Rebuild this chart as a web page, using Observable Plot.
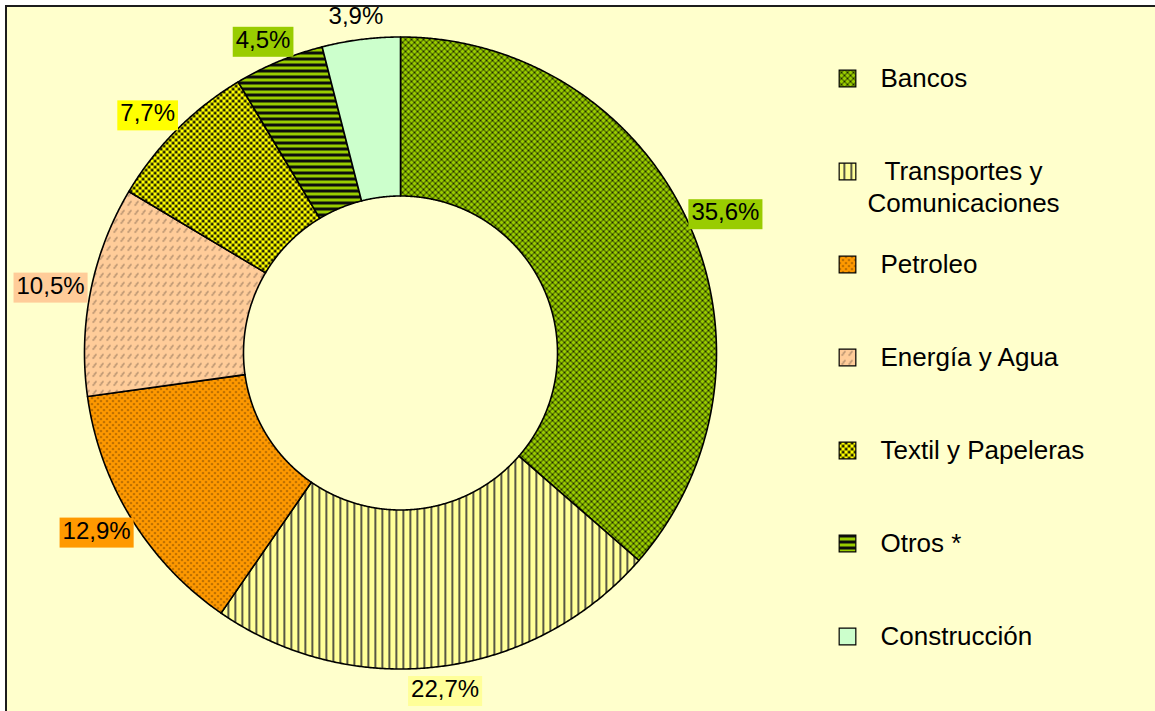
<!DOCTYPE html>
<html>
<head>
<meta charset="utf-8">
<script src="https://cdn.jsdelivr.net/npm/d3@7"></script>
<script src="https://cdn.jsdelivr.net/npm/@observablehq/plot@0.6"></script>
<style>
  html, body { margin: 0; padding: 0; background: #ffffff; }
  #bg { position: absolute; left: 5px; top: 5px; width: 1150px; height: 706px; background: #FFFFCC;
        border-left: 2px solid #1c1c1c; border-top: 2px solid #1c1c1c; box-sizing: border-box; }
  #chart { position: absolute; left: 0; top: 0; }
</style>
</head>
<body>
<svg width="0" height="0" style="position:absolute">
  <defs>
    <pattern id="pBancos" width="6" height="6" patternUnits="userSpaceOnUse">
      <rect width="6" height="6" fill="#99CC00"/>
      <path d="M0,0L6,6M6,0L0,6M-1,5L1,7M5,-1L7,1M-1,1L1,-1M5,7L7,5" stroke="#1a2600" stroke-width="0.95"/>
    </pattern>
    <pattern id="pTrans" width="7" height="7" patternUnits="userSpaceOnUse">
      <rect width="7" height="7" fill="#FFFF99"/>
      <rect x="3" y="0" width="1.6" height="7" fill="#2e2e2e"/>
    </pattern>
    <pattern id="pPetro" width="6" height="6" patternUnits="userSpaceOnUse">
      <rect width="6" height="6" fill="#FF9900"/>
      <circle cx="1.5" cy="1.5" r="0.85" fill="#5a3000"/>
      <circle cx="4.5" cy="4.5" r="0.85" fill="#5a3000"/>
    </pattern>
    <pattern id="pEnergia" width="7" height="9" patternUnits="userSpaceOnUse">
      <rect width="7" height="9" fill="#FFCC99"/>
      <path d="M1.5,7L4.8,2.5" stroke="#5e4a3c" stroke-width="1.1" stroke-dasharray="1.3,0.7"/>
    </pattern>
    <pattern id="pTextil" width="6" height="6" patternUnits="userSpaceOnUse">
      <rect width="6" height="6" fill="#FFFF00"/>
      <rect x="0.3" y="0.3" width="2.6" height="2.6" fill="#000"/>
      <rect x="3.3" y="3.3" width="2.6" height="2.6" fill="#000"/>
    </pattern>
    <pattern id="pOtros" width="6" height="6" patternUnits="userSpaceOnUse">
      <rect width="6" height="6" fill="#99CC00"/>
      <rect x="0" y="3" width="6" height="3" fill="#0d0d0d"/>
    </pattern>
    <pattern id="pConst" width="6" height="6" patternUnits="userSpaceOnUse">
      <rect width="6" height="6" fill="#CCFFCC"/>
    </pattern>
  </defs>
</svg>
<div id="bg"></div>
<div id="chart"></div>
<script>
// ---- data ----
const categories = ["Bancos", "Transportes y Comunicaciones", "Petroleo", "Energía y Agua", "Textil y Papeleras", "Otros *", "Construcción"];
const legendLines = [["Bancos"], ["Transportes y", "Comunicaciones"], ["Petroleo"], ["Energía y Agua"], ["Textil y Papeleras"], ["Otros *"], ["Construcción"]];
const shares = [35.6, 22.7, 12.9, 10.5, 7.7, 4.5, 3.9];
const shareLabels = ["35,6%", "22,7%", "12,9%", "10,5%", "7,7%", "4,5%", "3,9%"];

// ---- styles ----
const patternUrls = ["url(#pBancos)", "url(#pTrans)", "url(#pPetro)", "url(#pEnergia)", "url(#pTextil)", "url(#pOtros)", "url(#pConst)"];
const labelBgs = ["#99CC00", "#FFFF99", "#FF9900", "#FFCC99", "#FFFF00", "#99CC00", null];

// ---- layout ----
const W = 1155, H = 711;
const cx = 400, cy = 352.5, R = 316, r0 = 157;
const labelGap = 8, halfW = 33, halfH = 15;
const legendX = 847, legendTextX = 880, legendY0 = 78, legendStep = 93, legendFont = 26, lineGap = 32;

const rows = categories.map((c, i) => ({cat: c, share: shares[i], label: shareLabels[i], i}));
const arcs = d3.pie().sort(null).value(d => d.share).startAngle(0).endAngle(2 * Math.PI)(rows);

const pol = (rr, t) => [cx + rr * Math.sin(t), cy - rr * Math.cos(t)];

const ringPts = [];
arcs.forEach(a => {
  const n = Math.max(4, Math.ceil((a.endAngle - a.startAngle) / 0.005));
  const ring = [];
  for (let k = 0; k <= n; k++) ring.push(pol(R, a.startAngle + (a.endAngle - a.startAngle) * k / n));
  for (let k = n; k >= 0; k--) ring.push(pol(r0, a.startAngle + (a.endAngle - a.startAngle) * k / n));
  ring.push(ring[0]);
  ring.forEach(([x, y]) => ringPts.push({cat: a.data.cat, x, y}));
});

const labelPos = arcs.map(a => {
  const t = (a.startAngle + a.endAngle) / 2;
  const [x, y] = pol(R + labelGap, t);
  return {label: a.data.label, i: a.data.i, x: x + halfW * Math.sin(t), y: y - halfH * Math.cos(t)};
});

const legendItems = [];
legendLines.forEach((lines, i) => {
  if (lines.length === 1) legendItems.push({text: lines[0], x: legendTextX, y: legendY0 + legendStep * i, anchor: "start"});
  else lines.forEach((l, j) => legendItems.push({text: l, x: 963, y: legendY0 + legendStep * i + lineGap * j, anchor: "middle"}));
});
const legendMarkers = categories.map((c, i) => ({cat: c, x: legendX, y: legendY0 + legendStep * i}));

const tag = cls => (index, scales, values, dims, ctx, next) => {
  const g = next(index, scales, values, dims, ctx);
  g.setAttribute("class", cls);
  return g;
};

const plot = Plot.plot({
  width: W, height: H,
  marginTop: 0, marginRight: 0, marginBottom: 0, marginLeft: 0,
  x: {domain: [0, W], range: [0, W], axis: null},
  y: {domain: [0, H], range: [0, H], axis: null},
  color: {type: "ordinal", domain: categories, range: patternUrls},
  style: {background: "transparent", fontFamily: "'Liberation Sans', Arial, sans-serif", overflow: "visible"},
  marks: [
    Plot.line(ringPts, {x: "x", y: "y", z: "cat", fill: "cat", stroke: "#000", strokeWidth: 1.6, strokeLinejoin: "round", curve: "linear"}),
    Plot.text(labelPos, {x: "x", y: "y", text: "label", fontSize: 24, fill: "#000", render: tag("slice-labels")}),
    Plot.dot(legendMarkers, {x: "x", y: "y", symbol: "square", r: 9.4, fill: "cat", stroke: "#000", strokeWidth: 1.2}),
    Plot.text(legendItems.filter(d => d.anchor === "start"), {x: "x", y: "y", text: "text", textAnchor: "start", fontSize: legendFont, fill: "#000"}),
    Plot.text(legendItems.filter(d => d.anchor === "middle"), {x: "x", y: "y", text: "text", textAnchor: "middle", fontSize: legendFont, fill: "#000"})
  ]
});
document.getElementById("chart").append(plot);

// label background boxes
document.querySelectorAll(".slice-labels text").forEach((t, k) => {
  const bg = labelBgs[labelPos[k].i];
  if (!bg) return;
  const b = t.getBBox();
  const rect = document.createElementNS("http://www.w3.org/2000/svg", "rect");
  rect.setAttribute("x", b.x - 3);
  rect.setAttribute("y", b.y + 1);
  rect.setAttribute("width", b.width + 6);
  rect.setAttribute("height", b.height + 3);
  rect.setAttribute("fill", bg);
  if (t.getAttribute("transform")) rect.setAttribute("transform", t.getAttribute("transform"));
  t.parentNode.insertBefore(rect, t);
});
</script>
</body>
</html>
